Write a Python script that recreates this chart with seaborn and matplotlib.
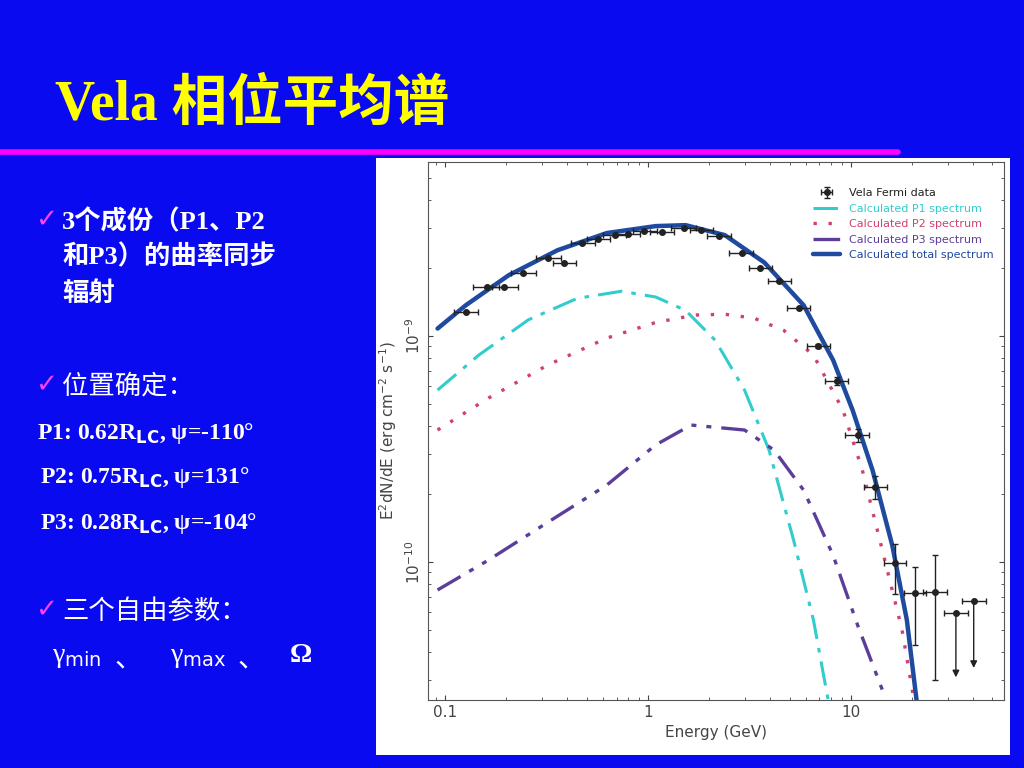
import numpy as np
import pandas as pd
import matplotlib
matplotlib.use("Agg")
import matplotlib.pyplot as plt
import seaborn as sns

# Fermi data points (GeV, erg cm^-2 s^-1)
data_e = [0.126, 0.160, 0.195, 0.242, 0.320, 0.383, 0.473, 0.565, 0.684, 0.800, 0.957, 1.17,
          1.50, 1.83, 2.24, 2.89, 3.57, 4.42, 5.53, 6.92, 8.55, 10.8, 13.2, 16.5, 20.7, 26.1]
data_f = [1.28e-9, 1.65e-9, 1.65e-9, 1.90e-9, 2.21e-9, 2.10e-9, 2.58e-9, 2.69e-9, 2.80e-9,
          2.83e-9, 2.92e-9, 2.88e-9, 3.01e-9, 2.94e-9, 2.77e-9, 2.33e-9, 2.00e-9, 1.75e-9,
          1.33e-9, 9.03e-10, 6.32e-10, 3.65e-10, 2.15e-10, 9.9e-11, 7.3e-11, 7.35e-11]
data_flo = [1.28e-9, 1.65e-9, 1.65e-9, 1.90e-9, 2.21e-9, 2.10e-9, 2.58e-9, 2.69e-9, 2.80e-9,
            2.83e-9, 2.92e-9, 2.88e-9, 3.01e-9, 2.94e-9, 2.77e-9, 2.33e-9, 2.00e-9, 1.75e-9,
            1.33e-9, 8.9e-10, 6.1e-10, 3.4e-10, 1.9e-10, 7.2e-11, 4.3e-11, 3.0e-11]
data_fhi = [1.28e-9, 1.65e-9, 1.65e-9, 1.90e-9, 2.21e-9, 2.10e-9, 2.58e-9, 2.69e-9, 2.80e-9,
            2.83e-9, 2.92e-9, 2.88e-9, 3.01e-9, 2.94e-9, 2.77e-9, 2.33e-9, 2.00e-9, 1.75e-9,
            1.33e-9, 9.2e-10, 6.6e-10, 3.9e-10, 2.4e-10, 1.2e-10, 9.5e-11, 1.07e-10]
data_elo = [0.110, 0.137, 0.170, 0.210, 0.280, 0.340, 0.415, 0.500, 0.600, 0.700, 0.840, 1.02,
            1.30, 1.60, 1.96, 2.50, 3.15, 3.90, 4.85, 6.05, 7.50, 9.40, 11.6, 14.5, 18.3, 22.8]
data_ehi = [0.145, 0.183, 0.228, 0.280, 0.370, 0.440, 0.545, 0.650, 0.780, 0.910, 1.10, 1.34,
            1.72, 2.10, 2.55, 3.30, 4.10, 5.05, 6.30, 7.90, 9.70, 12.3, 15.1, 18.8, 23.5, 29.8]
# upper limits
ul_e = [33.0, 40.4]
ul_f = [5.94e-11, 6.7e-11]
ul_elo = [28.8, 35.2]
ul_ehi = [37.8, 46.4]
ul_end = [3.0e-11, 3.3e-11]

total_e = [0.0914, 0.126, 0.205, 0.357, 0.625, 1.09, 1.53, 2.39, 3.74, 5.85, 8.18, 10.2, 12.8, 16.0, 18.9, 21.1]
total_f = [1.08e-9, 1.37e-9, 1.86e-9, 2.40e-9, 2.86e-9, 3.07e-9, 3.10e-9, 2.80e-9, 2.12e-9, 1.37e-9,
           7.83e-10, 4.71e-10, 2.55e-10, 1.19e-10, 5.54e-11, 2.45e-11]
p1_e = [0.0914, 0.146, 0.256, 0.447, 0.739, 1.09, 1.53, 2.14, 2.99, 3.95, 5.22, 6.54, 7.73]
p1_f = [5.77e-10, 8.24e-10, 1.18e-9, 1.47e-9, 1.58e-9, 1.49e-9, 1.30e-9, 9.6e-10, 5.77e-10,
        3.13e-10, 1.25e-10, 5.54e-11, 2.45e-11]
p2_e = [0.0914, 0.163, 0.320, 0.625, 1.09, 1.71, 2.39, 3.34, 4.67, 6.54, 9.14, 11.4, 14.3, 17.9, 20.5]
p2_f = [3.84e-10, 5.32e-10, 7.45e-10, 9.8e-10, 1.15e-9, 1.24e-9, 1.25e-9, 1.20e-9, 1.06e-9, 8.24e-10,
        4.71e-10, 2.55e-10, 1.13e-10, 5.0e-11, 2.45e-11]
p3_e = [0.0914, 0.163, 0.320, 0.625, 1.09, 1.63, 2.99, 4.18, 5.85, 8.18, 10.8, 14.3]
p3_f = [7.52e-11, 1.02e-10, 1.50e-10, 2.19e-10, 3.30e-10, 4.04e-10, 3.84e-10, 3.13e-10, 2.08e-10,
        1.07e-10, 5.26e-11, 2.72e-11]

sns.set_style("ticks")
plt.rcParams['font.family'] = ['Liberation Serif', 'Noto Sans CJK SC', 'DejaVu Sans']

blue_bg = '#0A0AF0'
fig = plt.figure(figsize=(10.24, 7.68), dpi=100, facecolor=blue_bg)

# title and slide text
fig.text(55/1024, 1 - 105/768, 'Vela 相位平均谱', color='#FFFF00', fontsize=40, fontweight='bold',
         va='center', ha='left', family=['Liberation Serif', 'Noto Sans CJK SC'])
fig.add_artist(plt.Line2D([0, 898/1024], [1 - 152/768, 1 - 152/768], color='#FF00FF', lw=4))

tcol = 'white'
cjk = ['Noto Sans CJK SC', 'DejaVu Sans']
def ftext(x, y, s, size=22, fam=None, color=tcol, weight='bold'):
    fig.text(x/1024, 1 - y/768, s, color=color, fontsize=size, fontweight=weight, va='center',
             ha='left', family=fam or ['Liberation Serif', 'Noto Sans CJK SC'])

ftext(35, 220, '✓', 19, ['DejaVu Sans'], '#FF40FF')
ftext(62, 222, '3个成份（P1、P2', 19)
ftext(62, 257, '和P3）的曲率同步', 19)
ftext(62, 294, '辐射', 19)
ftext(35, 385, '✓', 19, ['DejaVu Sans'], '#FF40FF')
ftext(62, 386, '位置确定：', 19, cjk, weight='normal')
ftext(37, 433, r'P1: 0.62R$_{\mathbf{LC}}$, ψ=-110°', 17)
ftext(40, 478, r'P2: 0.75R$_{\mathbf{LC}}$, ψ=131°', 17)
ftext(40, 523, r'P3: 0.28R$_{\mathbf{LC}}$, ψ=-104°', 17)
ftext(35, 610, '✓', 19, ['DejaVu Sans'], '#FF40FF')
ftext(62, 611, '三个自由参数：', 19, cjk, weight='normal')
ftext(52, 658, r'γ$_{\mathrm{min}}$', 20, weight='normal')
ftext(115, 658, '、', 20, cjk, weight='normal')
ftext(170, 658, r'γ$_{\mathrm{max}}$', 20, weight='normal')
ftext(238, 658, '、', 20, cjk, weight='normal')
ftext(290, 656, 'Ω', 20)

# white picture box
fig.add_artist(plt.Rectangle((376/1024, 1 - 755/768), 634/1024, 597/768,
                             transform=fig.transFigure, facecolor='white', edgecolor='none'))

ax = fig.add_axes([428/1024, 1 - 700/768, 576/1024, 538/768])
ax.set_zorder(3)

curves = [
    (p1_e, p1_f, '#33CCCC', (0, (8, 3, 1.5, 3)), 2.2, 'Calculated P1 spectrum'),
    (p2_e, p2_f, '#D04070', (0, (1, 3.5)), 2.4, 'Calculated P2 spectrum'),
    (p3_e, p3_f, '#5C3E9A', (0, (8, 3, 1.5, 3, 1.5, 3)), 2.4, 'Calculated P3 spectrum'),
    (total_e, total_f, '#1E4AA0', '-', 3.2, 'Calculated total spectrum'),
]
ax.errorbar(data_e, data_f,
            xerr=[np.array(data_e) - np.array(data_elo), np.array(data_ehi) - np.array(data_e)],
            yerr=[np.array(data_f) - np.array(data_flo), np.array(data_fhi) - np.array(data_f)],
            fmt='o', color='#222222', ms=4, lw=1, capsize=2, label='Vela Fermi data', zorder=5)
for e, f, c, ls, lw, lab in curves:
    sns.lineplot(x=e, y=f, ax=ax, color=c, lw=lw, linestyle=ls, label=lab, zorder=4)
ax.errorbar(ul_e, ul_f, xerr=[np.array(ul_e) - np.array(ul_elo), np.array(ul_ehi) - np.array(ul_e)],
            fmt='o', color='#222222', ms=4, lw=1, capsize=2, zorder=5)
for e, f, end in zip(ul_e, ul_f, ul_end):
    ax.annotate('', xy=(e, end), xytext=(e, f),
                arrowprops=dict(arrowstyle='-|>', color='#222222', lw=1))

ax.set_xscale('log')
ax.set_yscale('log')
ax.set_xlim(0.082, 57)
ax.set_ylim(2.45e-11, 5.9e-9)
ax.tick_params(which='both', direction='in', top=True, right=True, labelsize=11, colors='#444444')
ax.set_xticks([0.1, 1, 10])
ax.set_xticklabels(['0.1', '1', '10'], family='DejaVu Sans')
ax.set_yticks([1e-10, 1e-9])
ax.set_yticklabels([r'$10^{-10}$', r'$10^{-9}$'], rotation=90, va='center')
ax.set_xlabel('Energy (GeV)', fontsize=11, color='#444444', family='DejaVu Sans')
ax.set_ylabel(r'E$^2$dN/dE (erg cm$^{-2}$ s$^{-1}$)', fontsize=11, color='#444444', family='DejaVu Sans')
for s in ax.spines.values():
    s.set_color('#555555')

handles, labels = ax.get_legend_handles_labels()
order = [labels.index('Vela Fermi data')] + [labels.index(c[5]) for c in curves]
leg = ax.legend([handles[i] for i in order], [labels[i] for i in order], loc='upper right',
                frameon=False, fontsize=8, handlelength=2.5,
                labelcolor=['#222222', '#33CCCC', '#D04070', '#5C3E9A', '#1E4AA0'],
                prop={'family': 'DejaVu Sans', 'size': 8}, bbox_to_anchor=(1.0, 0.97))

fig.savefig('out.png', dpi=100, facecolor=blue_bg)
